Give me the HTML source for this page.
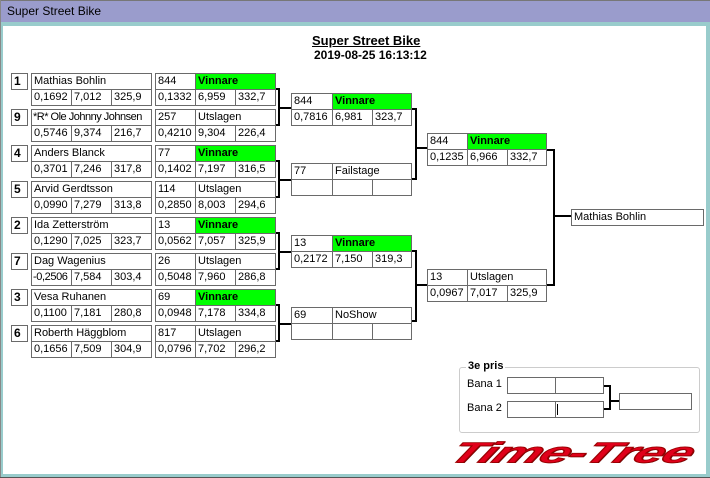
<!DOCTYPE html>
<html><head><meta charset="utf-8"><style>
*{box-sizing:border-box;margin:0;padding:0}
body{width:710px;height:478px;overflow:hidden;background:#fff;font-family:"Liberation Sans",Arial,sans-serif;font-size:11px;position:relative}
.a{position:absolute}
.c{position:absolute;height:17px;border:1px solid #6a6a6a;line-height:15px;padding-left:2px;white-space:nowrap;overflow:hidden;background:#fff;color:#000}
.g{background:#00ff00;font-weight:bold}
.s{font-weight:bold;font-size:12px;padding-left:2px}
.l{position:absolute;background:#000}
</style></head><body>
<div class="a" style="left:0;top:0;width:710px;height:22px;background:#9a9ccc;border-top:1px solid #777"></div>
<div class="a" style="left:7px;top:4px;font-size:12px">Super Street Bike</div>
<div class="a" style="left:0;top:22px;width:710px;height:4px;background:#99cccc"></div>
<div class="a" style="left:0;top:22px;width:3px;height:456px;background:#99cccc"></div>
<div class="a" style="left:706px;top:22px;width:4px;height:456px;background:#99cccc"></div>
<div class="a" style="left:0;top:474px;width:710px;height:4px;background:#99cccc"></div>
<div class="a" style="left:0;top:0;width:1px;height:478px;background:#888"></div>
<div class="a" style="left:0;top:477px;width:710px;height:1px;background:#555"></div>

<div class="a" style="left:312px;top:33px;font-size:13px;font-weight:bold;text-decoration:underline">Super Street Bike</div>
<div class="a" style="left:314px;top:48px;font-size:12px;font-weight:bold">2019-08-25 16:13:12</div>

<!-- R1 entries -->
<div class="c s" style="left:11px;top:73px;width:17px">1</div>
<div class="c" style="left:31px;top:73px;width:121px">Mathias Bohlin</div>
<div class="c" style="left:31px;top:89px;width:41px">0,1692</div><div class="c" style="left:71px;top:89px;width:41px">7,012</div><div class="c" style="left:111px;top:89px;width:41px">325,9</div>
<div class="c" style="left:155px;top:73px;width:41px">844</div><div class="c g" style="left:195px;top:73px;width:81px">Vinnare</div>
<div class="c" style="left:155px;top:89px;width:41px">0,1332</div><div class="c" style="left:195px;top:89px;width:41px">6,959</div><div class="c" style="left:235px;top:89px;width:41px">332,7</div>

<div class="c s" style="left:11px;top:109px;width:17px">9</div>
<div class="c" style="left:31px;top:109px;width:121px;letter-spacing:-0.5px;padding-left:1px">*R* Ole Johnny Johnsen</div>
<div class="c" style="left:31px;top:125px;width:41px">0,5746</div><div class="c" style="left:71px;top:125px;width:41px">9,374</div><div class="c" style="left:111px;top:125px;width:41px">216,7</div>
<div class="c" style="left:155px;top:109px;width:41px">257</div><div class="c" style="left:195px;top:109px;width:81px">Utslagen</div>
<div class="c" style="left:155px;top:125px;width:41px">0,4210</div><div class="c" style="left:195px;top:125px;width:41px">9,304</div><div class="c" style="left:235px;top:125px;width:41px">226,4</div>

<div class="c s" style="left:11px;top:145px;width:17px">4</div>
<div class="c" style="left:31px;top:145px;width:121px">Anders Blanck</div>
<div class="c" style="left:31px;top:161px;width:41px">0,3701</div><div class="c" style="left:71px;top:161px;width:41px">7,246</div><div class="c" style="left:111px;top:161px;width:41px">317,8</div>
<div class="c" style="left:155px;top:145px;width:41px">77</div><div class="c g" style="left:195px;top:145px;width:81px">Vinnare</div>
<div class="c" style="left:155px;top:161px;width:41px">0,1402</div><div class="c" style="left:195px;top:161px;width:41px">7,197</div><div class="c" style="left:235px;top:161px;width:41px">316,5</div>

<div class="c s" style="left:11px;top:181px;width:17px">5</div>
<div class="c" style="left:31px;top:181px;width:121px">Arvid Gerdtsson</div>
<div class="c" style="left:31px;top:197px;width:41px">0,0990</div><div class="c" style="left:71px;top:197px;width:41px">7,279</div><div class="c" style="left:111px;top:197px;width:41px">313,8</div>
<div class="c" style="left:155px;top:181px;width:41px">114</div><div class="c" style="left:195px;top:181px;width:81px">Utslagen</div>
<div class="c" style="left:155px;top:197px;width:41px">0,2850</div><div class="c" style="left:195px;top:197px;width:41px">8,003</div><div class="c" style="left:235px;top:197px;width:41px">294,6</div>

<div class="c s" style="left:11px;top:217px;width:17px">2</div>
<div class="c" style="left:31px;top:217px;width:121px">Ida Zetterström</div>
<div class="c" style="left:31px;top:233px;width:41px">0,1290</div><div class="c" style="left:71px;top:233px;width:41px">7,025</div><div class="c" style="left:111px;top:233px;width:41px">323,7</div>
<div class="c" style="left:155px;top:217px;width:41px">13</div><div class="c g" style="left:195px;top:217px;width:81px">Vinnare</div>
<div class="c" style="left:155px;top:233px;width:41px">0,0562</div><div class="c" style="left:195px;top:233px;width:41px">7,057</div><div class="c" style="left:235px;top:233px;width:41px">325,9</div>

<div class="c s" style="left:11px;top:253px;width:17px">7</div>
<div class="c" style="left:31px;top:253px;width:121px">Dag Wagenius</div>
<div class="c" style="left:31px;top:269px;width:41px;letter-spacing:-0.4px;padding-left:1px">-0,2506</div><div class="c" style="left:71px;top:269px;width:41px">7,584</div><div class="c" style="left:111px;top:269px;width:41px">303,4</div>
<div class="c" style="left:155px;top:253px;width:41px">26</div><div class="c" style="left:195px;top:253px;width:81px">Utslagen</div>
<div class="c" style="left:155px;top:269px;width:41px">0,5048</div><div class="c" style="left:195px;top:269px;width:41px">7,960</div><div class="c" style="left:235px;top:269px;width:41px">286,8</div>

<div class="c s" style="left:11px;top:289px;width:17px">3</div>
<div class="c" style="left:31px;top:289px;width:121px">Vesa Ruhanen</div>
<div class="c" style="left:31px;top:305px;width:41px">0,1100</div><div class="c" style="left:71px;top:305px;width:41px">7,181</div><div class="c" style="left:111px;top:305px;width:41px">280,8</div>
<div class="c" style="left:155px;top:289px;width:41px">69</div><div class="c g" style="left:195px;top:289px;width:81px">Vinnare</div>
<div class="c" style="left:155px;top:305px;width:41px">0,0948</div><div class="c" style="left:195px;top:305px;width:41px">7,178</div><div class="c" style="left:235px;top:305px;width:41px">334,8</div>

<div class="c s" style="left:11px;top:325px;width:17px">6</div>
<div class="c" style="left:31px;top:325px;width:121px">Roberth Häggblom</div>
<div class="c" style="left:31px;top:341px;width:41px">0,1656</div><div class="c" style="left:71px;top:341px;width:41px">7,509</div><div class="c" style="left:111px;top:341px;width:41px">304,9</div>
<div class="c" style="left:155px;top:325px;width:41px">817</div><div class="c" style="left:195px;top:325px;width:81px">Utslagen</div>
<div class="c" style="left:155px;top:341px;width:41px">0,0796</div><div class="c" style="left:195px;top:341px;width:41px">7,702</div><div class="c" style="left:235px;top:341px;width:41px">296,2</div>

<!-- R1 brackets -->
<div class="l" style="left:276px;top:88px;width:4px;height:2px"></div><div class="l" style="left:278px;top:88px;width:2px;height:38px"></div><div class="l" style="left:276px;top:124px;width:4px;height:2px"></div><div class="l" style="left:278px;top:107px;width:13px;height:2px"></div>
<div class="l" style="left:276px;top:160px;width:4px;height:2px"></div><div class="l" style="left:278px;top:160px;width:2px;height:38px"></div><div class="l" style="left:276px;top:196px;width:4px;height:2px"></div><div class="l" style="left:278px;top:179px;width:13px;height:2px"></div>
<div class="l" style="left:276px;top:232px;width:4px;height:2px"></div><div class="l" style="left:278px;top:232px;width:2px;height:38px"></div><div class="l" style="left:276px;top:268px;width:4px;height:2px"></div><div class="l" style="left:278px;top:251px;width:13px;height:2px"></div>
<div class="l" style="left:276px;top:304px;width:4px;height:2px"></div><div class="l" style="left:278px;top:304px;width:2px;height:38px"></div><div class="l" style="left:276px;top:340px;width:4px;height:2px"></div><div class="l" style="left:278px;top:323px;width:13px;height:2px"></div>

<!-- R2 -->
<div class="c" style="left:291px;top:93px;width:42px">844</div><div class="c g" style="left:332px;top:93px;width:80px">Vinnare</div>
<div class="c" style="left:291px;top:109px;width:42px">0,7816</div><div class="c" style="left:332px;top:109px;width:41px">6,981</div><div class="c" style="left:372px;top:109px;width:40px">323,7</div>
<div class="c" style="left:291px;top:163px;width:42px">77</div><div class="c" style="left:332px;top:163px;width:80px">Failstage</div>
<div class="c" style="left:291px;top:179px;width:42px"></div><div class="c" style="left:332px;top:179px;width:41px"></div><div class="c" style="left:372px;top:179px;width:40px"></div>
<div class="c" style="left:291px;top:235px;width:42px">13</div><div class="c g" style="left:332px;top:235px;width:80px">Vinnare</div>
<div class="c" style="left:291px;top:251px;width:42px">0,2172</div><div class="c" style="left:332px;top:251px;width:41px">7,150</div><div class="c" style="left:372px;top:251px;width:40px">319,3</div>
<div class="c" style="left:291px;top:307px;width:42px">69</div><div class="c" style="left:332px;top:307px;width:80px">NoShow</div>
<div class="c" style="left:291px;top:323px;width:42px"></div><div class="c" style="left:332px;top:323px;width:41px"></div><div class="c" style="left:372px;top:323px;width:40px"></div>

<div class="l" style="left:412px;top:108px;width:5px;height:2px"></div><div class="l" style="left:415px;top:108px;width:2px;height:72px"></div><div class="l" style="left:412px;top:178px;width:5px;height:2px"></div><div class="l" style="left:415px;top:147px;width:12px;height:2px"></div>
<div class="l" style="left:412px;top:250px;width:5px;height:2px"></div><div class="l" style="left:415px;top:250px;width:2px;height:72px"></div><div class="l" style="left:412px;top:320px;width:5px;height:2px"></div><div class="l" style="left:415px;top:284px;width:12px;height:2px"></div>

<!-- R3 -->
<div class="c" style="left:427px;top:133px;width:41px">844</div><div class="c g" style="left:467px;top:133px;width:80px">Vinnare</div>
<div class="c" style="left:427px;top:149px;width:41px">0,1235</div><div class="c" style="left:467px;top:149px;width:41px">6,966</div><div class="c" style="left:507px;top:149px;width:40px">332,7</div>
<div class="c" style="left:427px;top:269px;width:41px">13</div><div class="c" style="left:467px;top:269px;width:80px">Utslagen</div>
<div class="c" style="left:427px;top:285px;width:41px">0,0967</div><div class="c" style="left:467px;top:285px;width:41px">7,017</div><div class="c" style="left:507px;top:285px;width:40px">325,9</div>

<div class="l" style="left:547px;top:149px;width:8px;height:2px"></div><div class="l" style="left:553px;top:149px;width:2px;height:137px"></div><div class="l" style="left:547px;top:284px;width:8px;height:2px"></div><div class="l" style="left:553px;top:215px;width:18px;height:2px"></div>

<div class="c" style="left:571px;top:209px;width:133px">Mathias Bohlin</div>

<!-- 3e pris -->
<div class="a" style="left:459px;top:367px;width:241px;height:66px;border:1px solid #ccc;border-radius:3px"></div>
<div class="a" style="left:466px;top:360px;background:#fff;padding:0 2px;font-weight:bold;font-size:11px">3e pris</div>
<div class="a" style="left:467px;top:378px">Bana 1</div>
<div class="a" style="left:467px;top:402px">Bana 2</div>
<div class="c" style="left:507px;top:377px;width:49px"></div><div class="c" style="left:555px;top:377px;width:49px"></div>
<div class="c" style="left:507px;top:401px;width:49px"></div><div class="c" style="left:555px;top:401px;width:49px"></div>
<div class="l" style="left:557px;top:404px;width:1px;height:11px"></div>
<div class="c" style="left:619px;top:393px;width:73px"></div>
<div class="l" style="left:604px;top:385px;width:7px;height:2px"></div><div class="l" style="left:609px;top:385px;width:2px;height:25px"></div><div class="l" style="left:604px;top:408px;width:7px;height:2px"></div><div class="l" style="left:609px;top:400px;width:10px;height:2px"></div>

<div class="a" style="left:462px;top:436px;font-size:34px;font-weight:bold;font-style:italic;color:#e0001a;letter-spacing:-1px;transform:scale(1.58,0.85) skewX(-18deg);transform-origin:left top;text-shadow:1px 1px 0 #600;-webkit-text-stroke:1px #900;line-height:40px">Time-Tree</div>
</body></html>
